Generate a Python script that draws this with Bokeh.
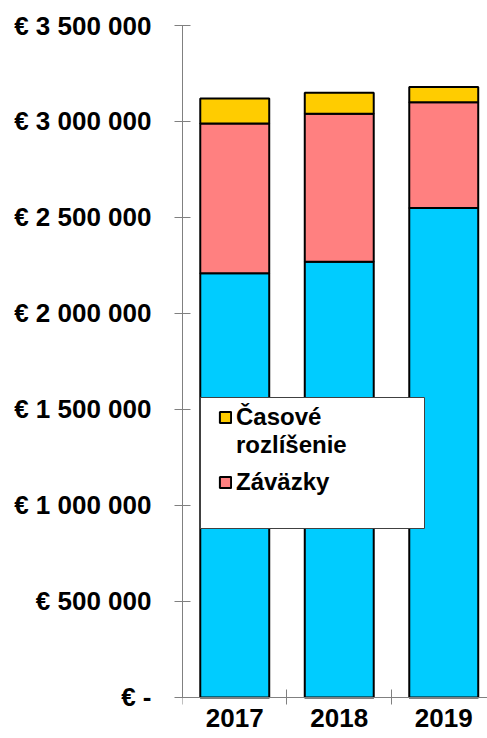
from bokeh.plotting import figure
from bokeh.models import (Range1d, LinearAxis, FixedTicker, Legend, LegendItem,
                          ColumnDataSource, BoxAnnotation)
from bokeh.embed import file_html
from bokeh.resources import INLINE

# ---- data ----
years = ["2017", "2018", "2019"]
vlastne_imanie = [2210000, 2270000, 2550000]
zavazky = [780000, 770000, 550000]
casove_rozlisenie = [130000, 110000, 80000]
legend_line1 = "Časové"
legend_line2 = "rozlíšenie"
legend_zavazky = "Záväzky"
y_tick_values = [0, 500000, 1000000, 1500000, 2000000, 2500000, 3000000, 3500000]
y_tick_labels = ["€ -", "€ 500 000", "€ 1 000 000", "€ 1 500 000",
                 "€ 2 000 000", "€ 2 500 000", "€ 3 000 000", "€ 3 500 000"]
colors = ["#00CCFF", "#FF8080", "#FFCC00"]

FONT = "Liberation Sans"
AXIS_COLOR = "#808080"

x = list(range(len(years)))
src = ColumnDataSource(dict(x=x, a=vlastne_imanie, b=zavazky, c=casove_rozlisenie))

p = figure(width=487, height=738, output_backend="svg", toolbar_location=None,
           x_range=Range1d(-0.5, 2.4187), y_range=Range1d(-213542, 3500000),
           x_axis_location=None, y_axis_location=None,
           min_border_left=182, min_border_right=0, min_border_top=25,
           min_border_bottom=0)
p.xgrid.visible = False
p.ygrid.visible = False
p.outline_line_color = None
p.background_fill_color = "white"
p.border_fill_color = "white"

rs = p.vbar_stack(["a", "b", "c"], x="x", width=0.66, fill_color=colors,
                  line_color="black", line_width=2, source=src)

# invisible renderer used for the wrapped second legend line
blank = p.vbar(x=[], top=[], width=0.5, fill_alpha=0, line_alpha=0)

# y axis
yaxis = LinearAxis(ticker=FixedTicker(ticks=y_tick_values),
                   major_label_overrides=dict(zip(y_tick_values, y_tick_labels)),
                   bounds=(0, 3500000),
                   major_tick_in=8, major_tick_out=8,
                   minor_tick_line_color=None,
                   axis_line_color=AXIS_COLOR, major_tick_line_color=AXIS_COLOR,
                   major_label_text_font=FONT, major_label_text_font_style="bold",
                   major_label_text_font_size="26px", major_label_text_color="black",
                   major_label_standoff=23)
p.add_layout(yaxis, "left")

# x axis: ticks at category boundaries
xaxis_ticks = LinearAxis(fixed_location=0,
                         ticker=FixedTicker(ticks=[-0.5, 0.5, 1.5]),
                         major_tick_in=8, major_tick_out=7,
                         minor_tick_line_color=None,
                         axis_line_color=AXIS_COLOR, major_tick_line_color=AXIS_COLOR,
                         major_label_text_color=None)
p.add_layout(xaxis_ticks, "below")

# x axis: category labels
xaxis_labels = LinearAxis(fixed_location=0,
                          ticker=FixedTicker(ticks=x),
                          major_label_overrides=dict(zip(x, years)),
                          major_tick_line_color=None, minor_tick_line_color=None,
                          axis_line_color=None, major_tick_in=0, major_tick_out=0,
                          major_label_standoff=12,
                          major_label_text_font=FONT, major_label_text_font_style="bold",
                          major_label_text_font_size="26px", major_label_text_color="black")
p.add_layout(xaxis_labels, "below")

# legend frame
box = BoxAnnotation(left=18, right=242, bottom=210, top=341,
                    left_units="screen", right_units="screen",
                    bottom_units="screen", top_units="screen",
                    fill_color="white", fill_alpha=1.0,
                    line_color="#404040", line_width=1, line_alpha=1.0)
p.add_layout(box)

leg_style = dict(label_text_font=FONT, label_text_font_style="bold",
                 label_text_font_size="24px", label_text_color="black",
                 glyph_width=14, glyph_height=14, label_standoff=4,
                 label_height=28, padding=0, spacing=0, margin=0,
                 border_line_color=None, background_fill_alpha=0)

legend_a = Legend(items=[LegendItem(label=legend_line1, renderers=[rs[2]]),
                         LegendItem(label=legend_line2, renderers=[blank])],
                  location=(36, 279), **leg_style)
legend_b = Legend(items=[LegendItem(label=legend_zavazky, renderers=[rs[1]])],
                  location=(36, 242), **leg_style)
p.add_layout(legend_a)
p.add_layout(legend_b)

open("out.html", "w").write(file_html(p, INLINE))
